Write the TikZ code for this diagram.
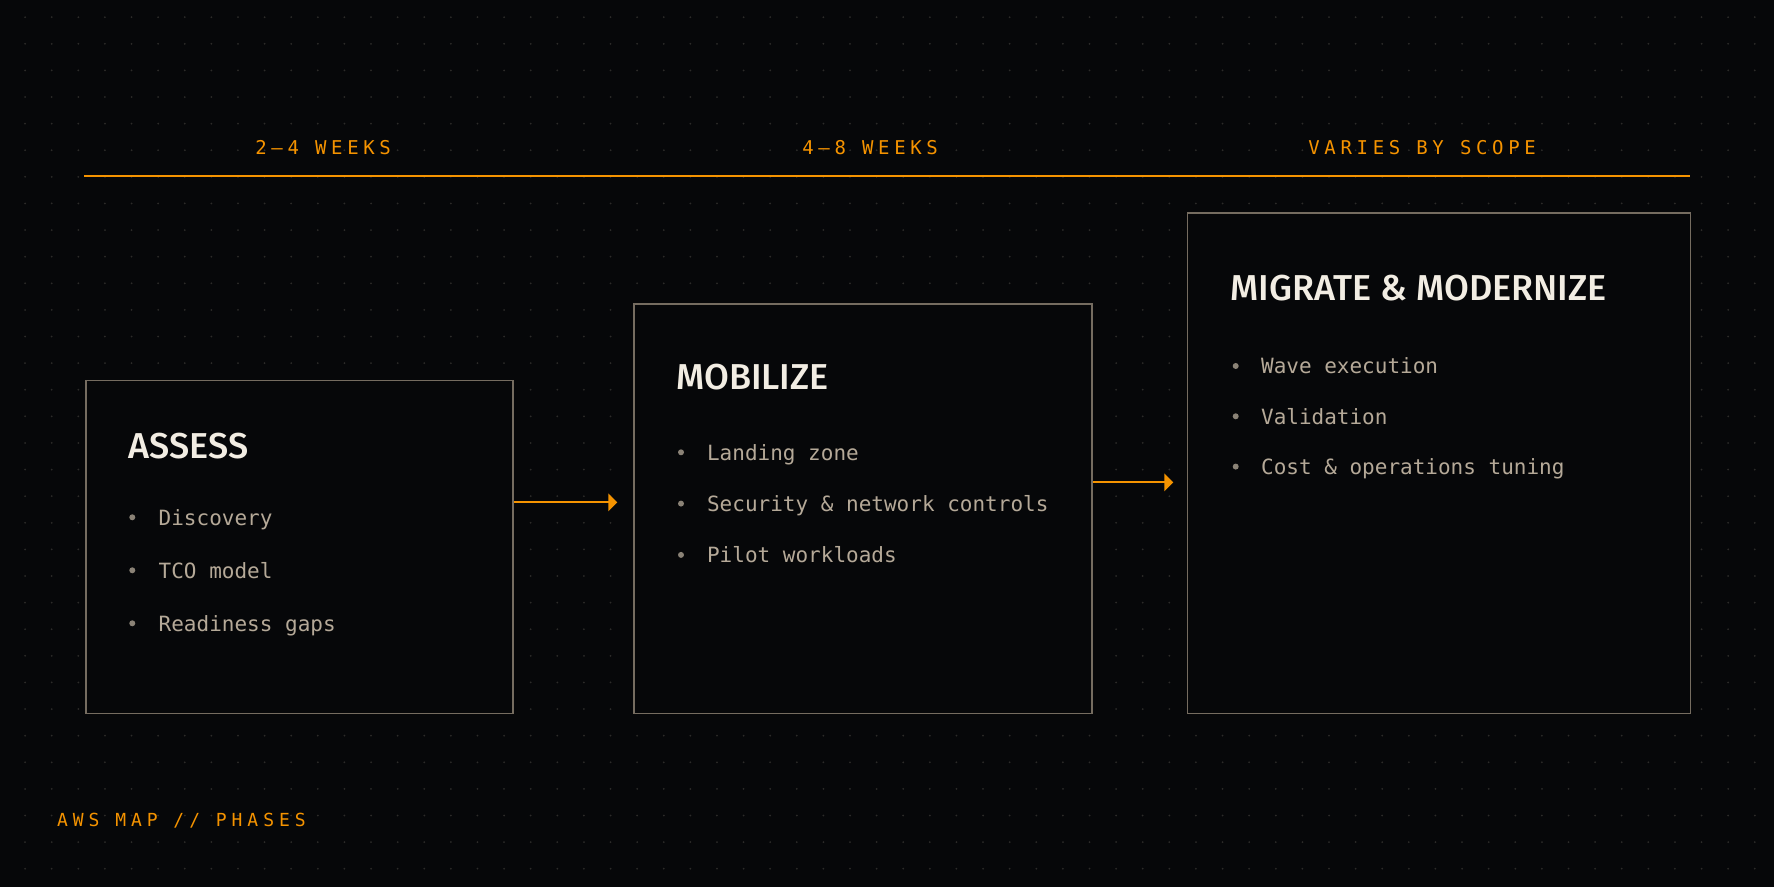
\documentclass[tikz,border=0pt]{standalone}
\usepackage{fontspec}
\setmainfont{Fira Sans}
\newfontfamily\titlefont{Fira Sans Medium}
\newfontfamily\itemfont{DejaVu Sans Mono}
\newfontfamily\spanfont{DejaVu Sans Mono}[LetterSpace=24.5]
\newfontfamily\tagfont{DejaVu Sans Mono}[LetterSpace=27.5]
\usetikzlibrary{arrows.meta}

\definecolor{bgdark}{HTML}{060709}
\definecolor{griddot}{HTML}{2C2B29}
\definecolor{edgegrey}{HTML}{756C60}
\definecolor{amber}{HTML}{F59300}
\definecolor{cream}{HTML}{F2EDE3}
\definecolor{itemgrey}{HTML}{B5A998}
\definecolor{bulletgrey}{HTML}{8A8276}

\begin{document}
\begin{tikzpicture}[x=0.5pt, y=-0.5pt,
    phase/.style={draw=edgegrey, line width=0.75pt, fill=bgdark, anchor=north west, inner sep=0pt},
    title/.style={anchor=base west, inner sep=0pt, text=cream, font=\titlefont\fontsize{18}{20}\selectfont},
    item/.style={anchor=base west, inner sep=0pt, text=itemgrey, font=\itemfont\fontsize{10.5}{12}\selectfont},
    span/.style={anchor=base west, inner sep=0pt, text=amber, font=\spanfont\fontsize{9.5}{11}\selectfont},
    flow/.style={draw=amber, line width=1pt, -{Triangle[length=4.5pt, width=8.75pt]}}]
  \useasboundingbox (0,0) rectangle (1774,887);
  \fill[bgdark] (0,0) rectangle (1774,887);
  % dot grid
  \foreach \i in {0,...,66}
    \foreach \j in {0,...,32}
      \fill[griddot] ({26.61*\i-1.5}, {17.2+26.61*\j}) circle[radius=0.5pt];

  % timeline
  \coordinate (tl0) at (84,176);
  \coordinate (tl1) at (1690,176);
  \draw[amber, line width=1pt] (tl0) -- (tl1);
  \node[span] (span1) at (255,154.3) {2–4 WEEKS};
  \node[span] (span2) at (802,154.3) {4–8 WEEKS};
  \node[span] (span3) at (1308,154.3) {VARIES BY SCOPE};

  % phases
  \node[phase, minimum width=213.5pt, minimum height=166.3pt] (assess) at (85,380) {};
  \node[phase, minimum width=228.9pt, minimum height=204.7pt] (mobilize) at (633.3,303.3) {};
  \node[phase, minimum width=251.4pt, minimum height=250.1pt] (migrate) at (1186.7,212.5) {};

  \node[title] (assess-t) at (128.3,458.3) {ASSESS};
  \node[title] (mobilize-t) at (676,390) {MOBILIZE};
  \node[title] (migrate-t) at (1230,300.7) {MIGRATE \& MODERNIZE};

  \foreach \txt [count=\k] in {Discovery, TCO model, Readiness gaps} {
    \fill[bulletgrey] (132.3, {517.3+53*(\k-1)}) circle[radius=1.5pt];
    \node[item] (assess-\k) at (158.3, {525.3+53*(\k-1)}) {\txt};
  }
  \foreach \txt [count=\k] in {Landing zone, Security \& network controls, Pilot workloads} {
    \fill[bulletgrey] (681, {452.3+51.3*(\k-1)}) circle[radius=1.5pt];
    \node[item] (mobilize-\k) at (706.7, {460.3+51.3*(\k-1)}) {\txt};
  }
  \foreach \txt [count=\k] in {Wave execution, Validation, Cost \& operations tuning} {
    \fill[bulletgrey] (1235.7, {366+50.3*(\k-1)}) circle[radius=1.5pt];
    \node[item] (migrate-\k) at (1260.7, {374+50.3*(\k-1)}) {\txt};
  }

  % arrows
  \coordinate (tip1) at (617.3,502.3);
  \coordinate (tip2) at (1173.3,482.3);
  \draw[flow] (assess.east |- tip1) -- (tip1);
  \draw[flow] (mobilize.east |- tip2) -- (tip2);

  \node[span, font=\tagfont\fontsize{9}{11}\selectfont] (tag) at (56.7,826.7) {AWS MAP // PHASES};
\end{tikzpicture}
\end{document}
